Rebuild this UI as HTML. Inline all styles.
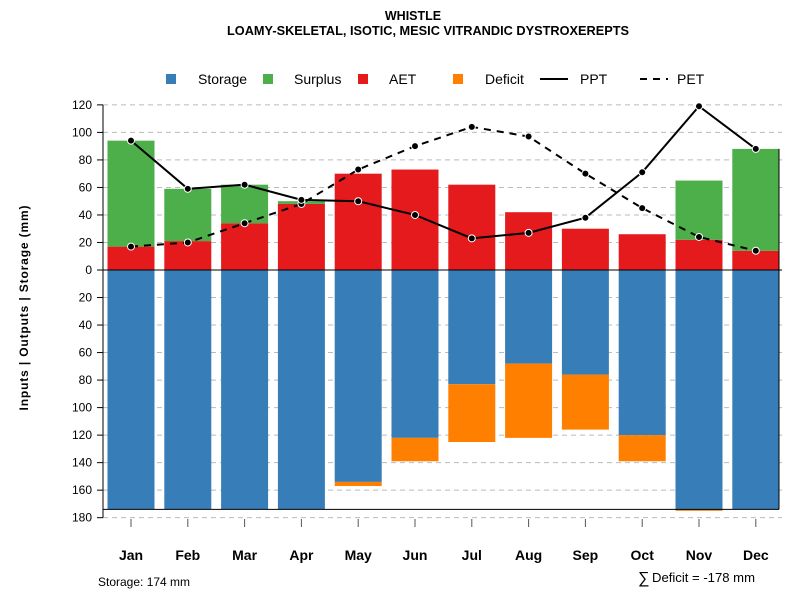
<!DOCTYPE html>
<html><head><meta charset="utf-8"><style>
body{margin:0;background:#fff;}
svg{font-family:"Liberation Sans",sans-serif;}
</style></head><body>
<svg id="c" width="800" height="600" xmlns="http://www.w3.org/2000/svg">
<text x="413" y="20" text-anchor="middle" font-size="12.5" font-weight="bold">WHISTLE</text>
<text x="428" y="35" text-anchor="middle" font-size="12.5" font-weight="bold" textLength="402" lengthAdjust="spacingAndGlyphs">LOAMY-SKELETAL, ISOTIC, MESIC VITRANDIC DYSTROXEREPTS</text>
<text transform="translate(28,308) rotate(-90)" text-anchor="middle" font-size="12" font-weight="bold" textLength="205" lengthAdjust="spacing">Inputs | Outputs | Storage    (mm)</text>
<g>
<rect x="166" y="74" width="10" height="10" fill="#377EB8"/>
<text x="198" y="84" font-size="14">Storage</text>
<rect x="263" y="74" width="10" height="10" fill="#4DAF4A"/>
<text x="294" y="84" font-size="14">Surplus</text>
<rect x="358" y="74" width="10" height="10" fill="#E41A1C"/>
<text x="389" y="84" font-size="14">AET</text>
<rect x="453" y="74" width="10" height="10" fill="#FF7F00"/>
<text x="485" y="84" font-size="14">Deficit</text>
<line x1="540" y1="79" x2="568" y2="79" stroke="#000" stroke-width="2"/>
<text x="580" y="84" font-size="14">PPT</text>
<line x1="640" y1="79" x2="668" y2="79" stroke="#000" stroke-width="2" stroke-dasharray="7,6"/>
<text x="677" y="84" font-size="14">PET</text>
</g>
<g id="plot"></g>
<text x="98" y="586" font-size="12">Storage: 174 mm</text>
<text x="638" y="583" font-size="16">∑</text>
<text x="652" y="582" font-size="12.5" textLength="103" lengthAdjust="spacingAndGlyphs">Deficit = -178 mm</text>
</svg>
<script>
const months=["Jan","Feb","Mar","Apr","May","Jun","Jul","Aug","Sep","Oct","Nov","Dec"];
const aet=[17,21,34,48,70,73,62,42,30,26,22,14];
const surplus=[77,38,28,2,0,0,0,0,0,0,43,74];
const storage=[174,174,174,174,154,122,83,68,76,120,174,174];
const deficit=[0,0,0,0,3,17,42,54,40,19,1,0];
const ppt=[94,59,62,51,50,40,23,27,38,71,119,88];
const pet=[17,20,34,48,73,90,104,97,70,45,24,14];
const yTicks=[120,100,80,60,40,20,0,20,40,60,80,100,120,140,160,180];
const NS="http://www.w3.org/2000/svg";
const g=document.getElementById('plot');
const y0=270,k=1.376,x0=131,dx=56.8,bw=47;
const Y=v=>y0-v*k; const X=i=>x0+i*dx;
function mk(t,a){const e=document.createElementNS(NS,t);for(const n in a)e.setAttribute(n,a[n]);g.appendChild(e);return e;}
for(let j=0;j<=15;j++){
  const v=j<=6?120-j*20:-(j-6)*20; if(v===0) continue; const yy=Y(v);
  const l=mk('line',{x1:103,x2:782,y1:yy,y2:yy,stroke:'#bbb','stroke-dasharray':'5,4'});
  
  
}
yTicks.forEach((t,j)=>{const v=j<=6?t:-t;const yy=Y(v);
  const tk=mk('line',{x1:97,x2:103,y1:yy,y2:yy,stroke:'#000'});
  
  
  const tx=mk('text',{x:92,y:yy+4,'text-anchor':'end','font-size':12});tx.textContent=t;
  
  });
months.forEach((m,i)=>{const x=X(i),l=x-bw/2;
  const s=mk('rect',{x:l,y:y0,width:bw,height:storage[i]*k,fill:'#377EB8'});
  
  
  if(deficit[i]>0){const d=mk('rect',{x:l,y:Y(-storage[i]),width:bw,height:deficit[i]*k,fill:'#FF7F00'});
    
    }
  const a=mk('rect',{x:l,y:Y(aet[i]),width:bw,height:aet[i]*k,fill:'#E41A1C'});
  
  
  if(surplus[i]>0){const u=mk('rect',{x:l,y:Y(aet[i]+surplus[i]),width:bw,height:surplus[i]*k,fill:'#4DAF4A'});
    
    }
  const tk=mk('line',{x1:x,x2:x,y1:519,y2:527,stroke:'#555'});
  
  
  const t=mk('text',{x:x,y:560,'text-anchor':'middle','font-size':14,'font-weight':'bold'});t.textContent=m;
  
  
});
const z=mk('line',{x1:103,x2:782,y1:y0,y2:y0,stroke:'#000'});


const sb=mk('line',{x1:103,x2:779,y1:Y(-174),y2:Y(-174),stroke:'#000'});


const ya=mk('line',{x1:103,x2:103,y1:Y(120),y2:Y(-180),stroke:'#000'});


const rb=mk('line',{x1:779,x2:779,y1:Y(88),y2:Y(-174),stroke:'#000'});


function series(vals,name,dash){
  const p=mk('polyline',{points:vals.map((v,i)=>X(i)+','+Y(v)).join(' '),fill:'none',stroke:'#000','stroke-width':2,'stroke-dasharray':dash});
  
  
  vals.forEach((v,i)=>{const c=mk('circle',{cx:X(i),cy:Y(v),r:3.5,fill:'#000',stroke:'#fff','stroke-width':1});
    
    });
}
series(pet,'pet','7,6');
series(ppt,'ppt','none');
</script>
</body></html>
